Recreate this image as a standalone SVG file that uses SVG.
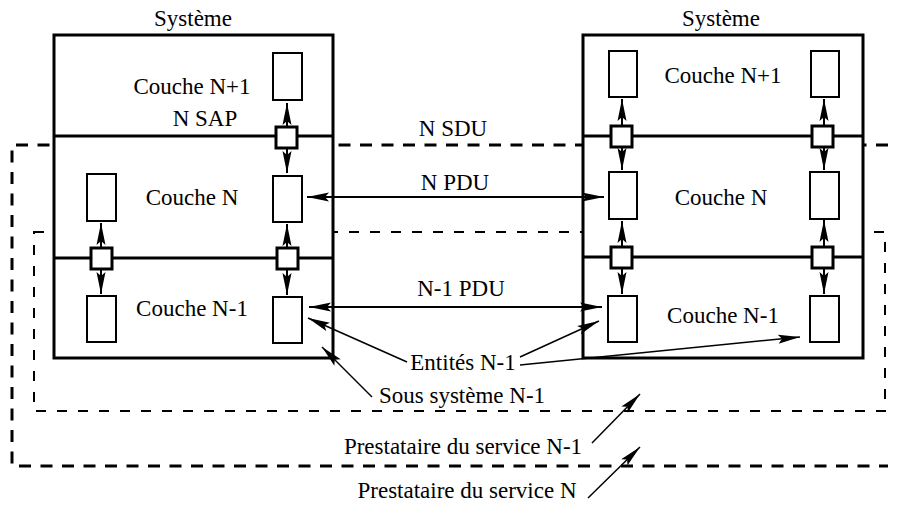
<svg xmlns="http://www.w3.org/2000/svg" width="899" height="513" viewBox="0 0 899 513" font-family="'Liberation Serif', 'DejaVu Serif', serif">
<style>
text{font-family:'Liberation Serif','DejaVu Serif',serif;font-size:23px;fill:#000;text-anchor:middle}
.sys{fill:#fff;stroke:#000;stroke-width:3}
.layer{fill:none;stroke:#000;stroke-width:3}
.ent{fill:#fff;stroke:#000;stroke-width:2}
.sap{fill:#fff;stroke:#000;stroke-width:3}
.outer{fill:none;stroke:#000;stroke-width:3;stroke-dasharray:12 9.5}
.inner{fill:none;stroke:#000;stroke-width:2;stroke-dasharray:10 11}
.arr2{fill:none;stroke:#000;stroke-width:2;marker-start:url(#ah);marker-end:url(#ah)}
.thin{fill:none;stroke:#000;stroke-width:1.5;marker-end:url(#ah)}
</style>
<defs>
<marker id="ah" viewBox="0 0 22 10" refX="22" refY="5" markerWidth="22" markerHeight="10" markerUnits="userSpaceOnUse" orient="auto-start-reverse">
<path d="M0,0.5 L22,5 L0,9.5 L4,5 z" fill="#000"/>
</marker>
</defs>
<rect width="899" height="513" fill="#fff"/>

<g id="provider-n">
<path class="outer" d="M888,145 H12 V466 H888"/>
<text x="467" y="498">Prestataire du service N</text>
</g>
<g id="provider-n-1">
<rect class="inner" x="34" y="232" width="851" height="179"/>
<text x="463" y="454">Prestataire du service N-1</text>
</g>

<g id="system-left">
<rect class="sys" x="54" y="35" width="279" height="323"/>
<line class="layer" x1="54" y1="136" x2="333" y2="136"/>
<line class="layer" x1="54" y1="258" x2="333" y2="258"/>
<text x="193" y="26">Système</text>
<text x="192" y="94">Couche N+1</text>
<text x="205" y="126">N SAP</text>
<text x="192" y="205">Couche N</text>
<text x="192" y="316">Couche N-1</text>
</g>
<g id="system-right">
<rect class="sys" x="583" y="35" width="280" height="323"/>
<line class="layer" x1="583" y1="136" x2="863" y2="136"/>
<line class="layer" x1="583" y1="257" x2="863" y2="257"/>
<text x="721" y="26">Système</text>
<text x="723" y="83">Couche N+1</text>
<text x="721" y="205">Couche N</text>
<text x="723" y="323">Couche N-1</text>
</g>

<g id="connectors">
<line class="arr2" x1="287" y1="103" x2="287" y2="173"/>
<line class="arr2" x1="101" y1="223" x2="101" y2="294"/>
<line class="arr2" x1="287" y1="224" x2="287" y2="295"/>
<line class="arr2" x1="622" y1="99" x2="622" y2="170"/>
<line class="arr2" x1="824" y1="99" x2="824" y2="170"/>
<line class="arr2" x1="622" y1="221" x2="622" y2="294"/>
<line class="arr2" x1="824" y1="220" x2="824" y2="294"/>
<line class="arr2" x1="307" y1="197" x2="604" y2="197"/>
<line class="arr2" x1="309" y1="307" x2="602" y2="307"/>
<line class="thin" x1="407" y1="362" x2="308" y2="318"/>
<line class="thin" x1="520" y1="357" x2="599" y2="321"/>
<line class="thin" x1="520" y1="365" x2="800" y2="337"/>
<line class="thin" x1="372" y1="397" x2="322" y2="347"/>
<line class="thin" x1="592" y1="443" x2="640" y2="394"/>
<line class="thin" x1="588" y1="498" x2="640" y2="447"/>
<text x="453" y="136">N SDU</text>
<text x="455" y="190">N PDU</text>
<text x="461" y="296">N-1 PDU</text>
<text x="463" y="370">Entités N-1</text>
<text x="462" y="403">Sous système N-1</text>
</g>

<g id="entities-left">
<rect class="ent" x="273" y="53" width="29" height="47"/>
<rect class="ent" x="87" y="174" width="29" height="47"/>
<rect class="ent" x="273" y="176" width="29" height="46"/>
<rect class="ent" x="87" y="296" width="29" height="46"/>
<rect class="ent" x="273" y="297" width="29" height="46"/>
</g>
<g id="entities-right">
<rect class="ent" x="609" y="51" width="28" height="46"/>
<rect class="ent" x="811" y="51" width="28" height="46"/>
<rect class="ent" x="609" y="172" width="28" height="47"/>
<rect class="ent" x="810" y="172" width="29" height="47"/>
<rect class="ent" x="608" y="296" width="29" height="46"/>
<rect class="ent" x="810" y="296" width="29" height="46"/>
</g>
<g id="saps-left">
<rect class="sap" x="276" y="127" width="21" height="21"/>
<rect class="sap" x="91" y="248" width="21" height="21"/>
<rect class="sap" x="277" y="248" width="21" height="21"/>
</g>
<g id="saps-right">
<rect class="sap" x="611" y="126" width="21" height="21"/>
<rect class="sap" x="812" y="126" width="21" height="21"/>
<rect class="sap" x="611" y="247" width="21" height="21"/>
<rect class="sap" x="812" y="247" width="21" height="21"/>
</g>
</svg>
